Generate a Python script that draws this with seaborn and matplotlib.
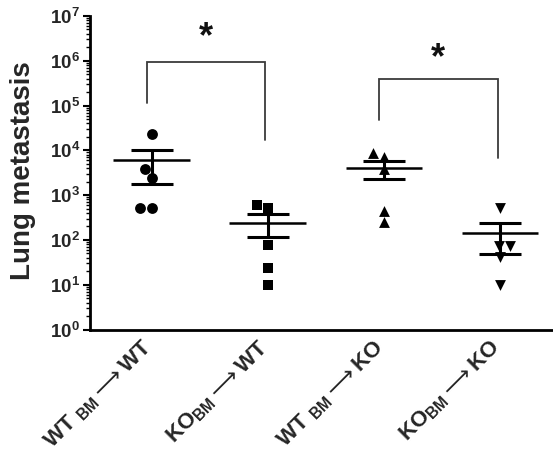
import numpy as np
import pandas as pd
import matplotlib
matplotlib.use("Agg")
import matplotlib.pyplot as plt
import matplotlib.transforms as mtransforms
import seaborn as sns

# ==============================
# DATA
# ==============================
groups = ["WT_BM>WT", "KO_BM>WT", "WT_BM>KO", "KO_BM>KO"]
wt_wt = [23000, 3800, 2400, 520, 520]
ko_wt = [600, 510, 77, 24, 10]
wt_ko = [8600, 7000, 3800, 450, 255]
ko_ko = [530, 73, 73, 42, 10]

markers = ["o", "s", "^", "v"]

xtick_labels = [
    r"$\mathbf{WT}\ {}_{\mathbf{BM}}\mathsf{\longrightarrow}\mathbf{WT}$",
    r"$\mathbf{KO}{}_{\mathbf{BM}}\mathsf{\longrightarrow}\mathbf{WT}$",
    r"$\mathbf{WT}\ {}_{\mathbf{BM}}\mathsf{\longrightarrow}\mathbf{KO}$",
    r"$\mathbf{KO}{}_{\mathbf{BM}}\mathsf{\longrightarrow}\mathbf{KO}$",
]
ytick_values = [1, 10, 100, 1e3, 1e4, 1e5, 1e6, 1e7]
ytick_labels = [r"$10^{%d}$" % i for i in range(8)]

# significance brackets: (left group, right group, top, left foot, right foot, star baseline)
brackets = [
    (0, 1, 9.5e5, 1.15e5, 1.7e4, 2.0e6),
    (2, 3, 3.85e5, 4.7e4, 6.6e3, 7.0e5),
]

df = pd.DataFrame({
    "group": np.repeat(groups, 5),
    "value": wt_wt + ko_wt + wt_ko + ko_ko,
})
stats = df.groupby("group", sort=False)["value"].agg(["mean", "sem"]).reindex(groups)

# ==============================
# STYLE
# ==============================
sns.set_style("ticks")
plt.rcParams["font.family"] = ["Liberation Sans", "DejaVu Sans"]
plt.rcParams["font.weight"] = "bold"
plt.rcParams["mathtext.fontset"] = "custom"
plt.rcParams["mathtext.rm"] = "Liberation Sans:bold"
plt.rcParams["mathtext.bf"] = "Liberation Sans:bold"
plt.rcParams["mathtext.it"] = "Liberation Sans:bold"
plt.rcParams["mathtext.sf"] = "DejaVu Sans:weight=normal"

fig = plt.figure(figsize=(5.53, 4.55), dpi=100)
ax = fig.add_axes([0.1627, 0.2758, 0.8373, 0.689])
ax.set_yscale("log")
ax.set_ylim(1, 1e7)
ax.set_xlim(-0.531, 3.457)

# ==============================
# POINTS
# ==============================
for g, m in zip(groups, markers):
    sns.swarmplot(data=df[df["group"] == g], x="group", y="value", order=groups,
                  marker=m, color="black", size=7.8, linewidth=0, ax=ax, zorder=3)
ax.set_xlim(-0.531, 3.457)
ax.set_ylim(1, 1e7)

# mean +/- SEM
pos = np.arange(len(groups))
ax.hlines(stats["mean"], pos - 0.33, pos + 0.33, color="black", lw=1.8, zorder=4)
ax.errorbar(pos, stats["mean"], yerr=stats["sem"], fmt="none", ecolor="black",
            elinewidth=2.2, capsize=15, capthick=2.2, zorder=4)

# brackets and stars
for a, b, top, lf, rf, star in brackets:
    ax.plot([a - 0.04, a - 0.04, b - 0.02, b - 0.02], [lf, top, top, rf],
            color="#3a3a3a", lw=1.3, solid_joinstyle="miter", zorder=2)
    ax.text((a + b) / 2 - 0.03, star, "*", ha="center", va="baseline",
            fontsize=26, fontweight="bold", color="#111111")

# ==============================
# AXES
# ==============================
ax.set_yticks(ytick_values)
ax.set_yticklabels(ytick_labels, fontsize=13.5)
ax.set_xticks(pos)
ax.set_xticklabels(xtick_labels, fontsize=16, rotation=45, ha="right",
                   va="top", rotation_mode="anchor")
ax.tick_params(axis="x", length=0, pad=5)
ax.tick_params(axis="y", which="major", length=5, width=1.5, pad=2, color="black")
ax.tick_params(axis="y", which="minor", length=3, width=1, color="black")
ax.set_xlabel("")
ax.set_ylabel("Lung metastasis", fontsize=20, fontweight="bold")
ax.yaxis.set_label_coords(-0.117, 0.506)
for s in ["left", "bottom"]:
    ax.spines[s].set_linewidth(2)
    ax.spines[s].set_color("black")
sns.despine(ax=ax)

# nudge the slanted labels a little to the left, as in the original
shift = mtransforms.ScaledTranslation(-11 / 100, 0, fig.dpi_scale_trans)
for lab in ax.get_xticklabels():
    lab.set_transform(lab.get_transform() + shift)

plt.savefig("out.png", dpi=100)
